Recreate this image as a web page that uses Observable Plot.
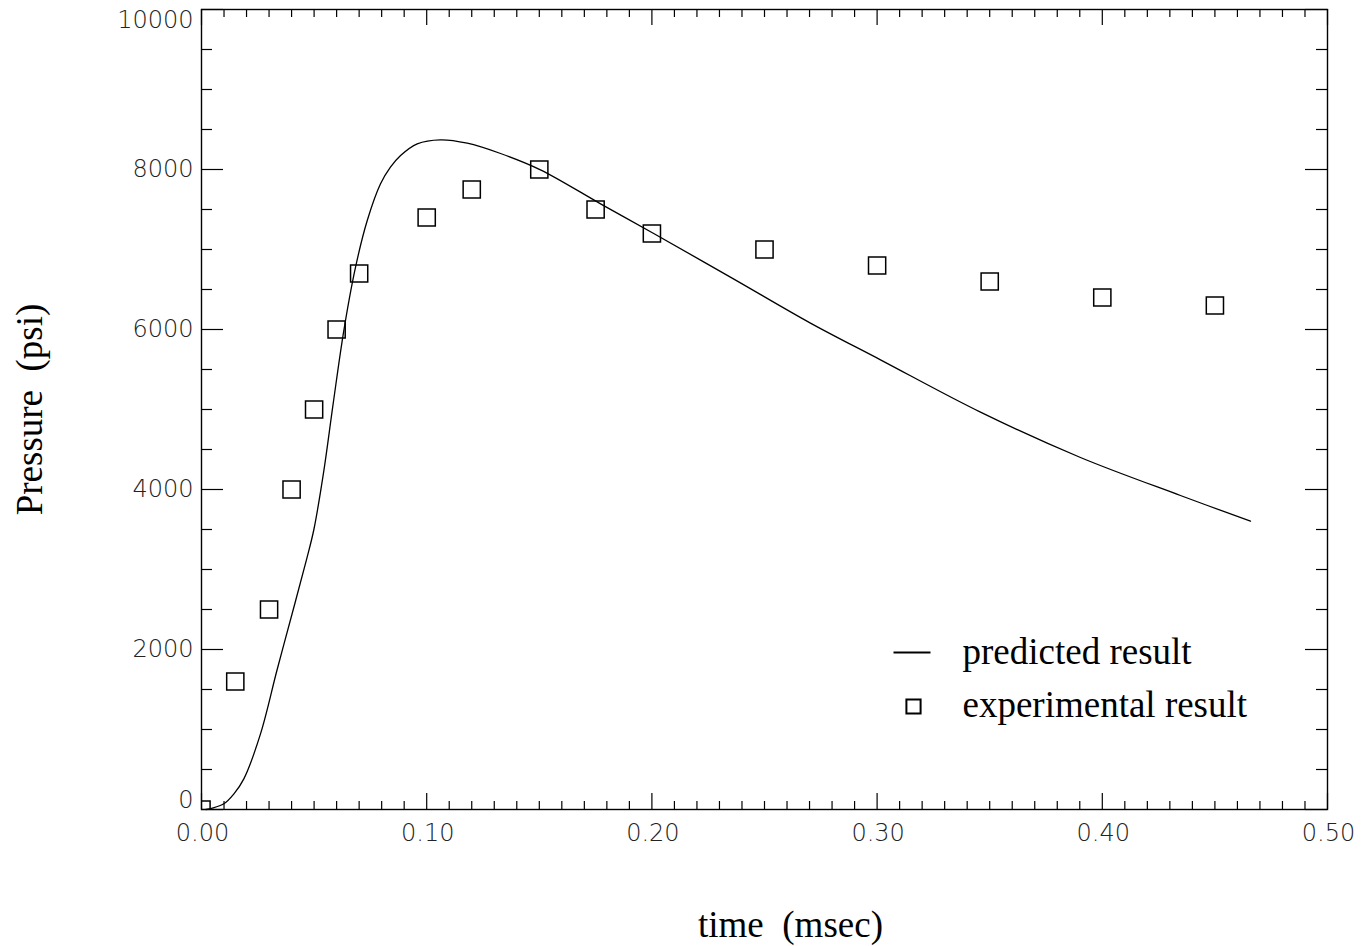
<!DOCTYPE html>
<html><head><meta charset="utf-8">
<script src="https://cdn.jsdelivr.net/npm/d3@7"></script>
<script src="https://cdn.jsdelivr.net/npm/@observablehq/plot@0.6"></script>
<style>
body{margin:0;background:#fff;}
#chart{width:1370px;height:946px;}
</style>
</head><body><div id="chart"></div>
<script>
// predicted result (time in msec, pressure in psi)
const predTime = [0.002,0.0045,0.0099,0.0144,0.0188,0.0262,0.0336,0.0417,0.0466,0.0499,0.0543,0.0585,0.0632,0.0684,0.0736,0.0795,0.0839,0.0884,0.0958,0.1061,0.118,0.1328,0.1505,0.1772,0.2008,0.2364,0.2704,0.3015,0.3459,0.3903,0.4347,0.4658];
const predPressure = [0,15,71,196,383,946,1750,2600,3120,3500,4230,5080,5987,6779,7362,7821,8029,8175,8321,8371,8329,8200,7996,7571,7200,6630,6080,5621,4967,4400,3925,3604];
// experimental result
const expTime = [0,0.015,0.03,0.04,0.05,0.06,0.07,0.10,0.12,0.15,0.175,0.20,0.25,0.30,0.35,0.40,0.45];
const expPressure = [0,1600,2500,4000,5000,6000,6700,7400,7750,8000,7500,7200,7000,6800,6600,6400,6300];
// ticks
const xTickValues = [0,0.1,0.2,0.3,0.4,0.5];
const xTickLabels = ["0.00","0.10","0.20","0.30","0.40","0.50"];
const xMinorTicks = d3.range(1,50).map(i => i/100).filter(v => Math.round(v*100)%10 !== 0);
const yTickValues = [0,2000,4000,6000,8000,10000];
const yTickLabels = ["0","2000","4000","6000","8000","10000"];
const yMinorTicks = d3.range(500,10000,500).filter(v => v%2000 !== 0);
const xTitle = "time  (msec)";
const yTitle = "Pressure  (psi)";
const legendLabels = ["predicted result","experimental result"];

const pred = predTime.map((t,i)=>({t, p: predPressure[i]}));
const exp = expTime.map((t,i)=>({t, p: expPressure[i]}));

const W = 1370, H = 946, mL = 201, mR = 43, mT = 9, mB = 137;
const fw = W - mL - mR, fh = H - mT - mB;
const sansFont = "'DejaVu Sans', sans-serif";
const serifFont = "'Liberation Serif', 'Times New Roman', serif";
const tickText = {fontSize: 24, fontFamily: sansFont, fontWeight: 200, fill: "#222", letterSpacing: "3px"};

const hline = {draw(ctx, size){ const w = 18.5; ctx.moveTo(-w,0); ctx.lineTo(w,0); }};

const chart = Plot.plot({
  width: W, height: H,
  marginLeft: mL, marginRight: mR, marginTop: mT, marginBottom: mB,
  x: {domain: [0,0.5], axis: null},
  y: {domain: [0,10000], axis: null},
  style: {background: "#fff", color: "black"},
  marks: [
    Plot.ruleX(xTickValues, {x: d=>d, insetTop: fh-16, stroke: "black", strokeWidth: 1.2}),
    Plot.ruleX(xTickValues, {x: d=>d, insetBottom: fh-16, stroke: "black", strokeWidth: 1.2}),
    Plot.ruleX(xMinorTicks, {x: d=>d, insetTop: fh-8, stroke: "black", strokeWidth: 1.2}),
    Plot.ruleX(xMinorTicks, {x: d=>d, insetBottom: fh-8, stroke: "black", strokeWidth: 1.2}),
    Plot.ruleY(yTickValues, {y: d=>d, insetRight: fw-22, stroke: "black", strokeWidth: 1.2}),
    Plot.ruleY(yTickValues, {y: d=>d, insetLeft: fw-22, stroke: "black", strokeWidth: 1.2}),
    Plot.ruleY(yMinorTicks, {y: d=>d, insetRight: fw-11, stroke: "black", strokeWidth: 1.2}),
    Plot.ruleY(yMinorTicks, {y: d=>d, insetLeft: fw-11, stroke: "black", strokeWidth: 1.2}),
    Plot.frame({stroke: "black", strokeWidth: 1.4}),
    Plot.line(pred, {x: "t", y: "p", stroke: "black", strokeWidth: 1.3, curve: "catmull-rom"}),
    Plot.dot(exp, {x: "t", y: "p", symbol: "square", r: 9.7, stroke: "black", strokeWidth: 1.5, fill: "none", clip: true}),
    Plot.text(xTickValues, {x: d=>d, frameAnchor: "bottom", dx: 1, dy: 31, text: (d,i)=>xTickLabels[i], ...tickText}),
    Plot.text(yTickValues.slice(1,-1), {y: d=>d, frameAnchor: "left", dx: -8, textAnchor: "end",
      text: (d,i)=> yTickLabels[i+1], ...tickText}),
    Plot.text([yTickValues[0]], {y: d=>d, frameAnchor: "left", dx: -8, dy: -9, textAnchor: "end",
      text: () => yTickLabels[0], ...tickText}),
    Plot.text([yTickValues[yTickValues.length-1]], {y: d=>d, frameAnchor: "left", dx: -8, dy: 11, textAnchor: "end",
      text: () => yTickLabels[yTickLabels.length-1], ...tickText}),
    Plot.text([xTitle], {frameAnchor: "bottom", dx: 26, dy: 127, fontSize: 37, fontFamily: serifFont, fill: "black"}),
    Plot.text([yTitle], {frameAnchor: "left", textAnchor: "middle", dx: -171, dy: 0, rotate: -90, fontSize: 37, fontFamily: serifFont, fill: "black"}),
    Plot.dot([0], {frameAnchor: "top-left", dx: 911.5-mL, dy: 652-mT, symbol: hline, r: 5, stroke: "black", strokeWidth: 2}),
    Plot.dot([0], {frameAnchor: "top-left", dx: 913-mL, dy: 706-mT, symbol: "square", r: 8, stroke: "black", strokeWidth: 2, fill: "none"}),
    Plot.text([legendLabels[0]], {frameAnchor: "top-left", dx: 962-mL, dy: 637-mT, textAnchor: "start", fontSize: 37, fontFamily: serifFont, fill: "black"}),
    Plot.text([legendLabels[1]], {frameAnchor: "top-left", dx: 962-mL, dy: 690-mT, textAnchor: "start", fontSize: 37, fontFamily: serifFont, fill: "black"})
  ]
});
document.getElementById("chart").appendChild(chart);
</script>
</body></html>
